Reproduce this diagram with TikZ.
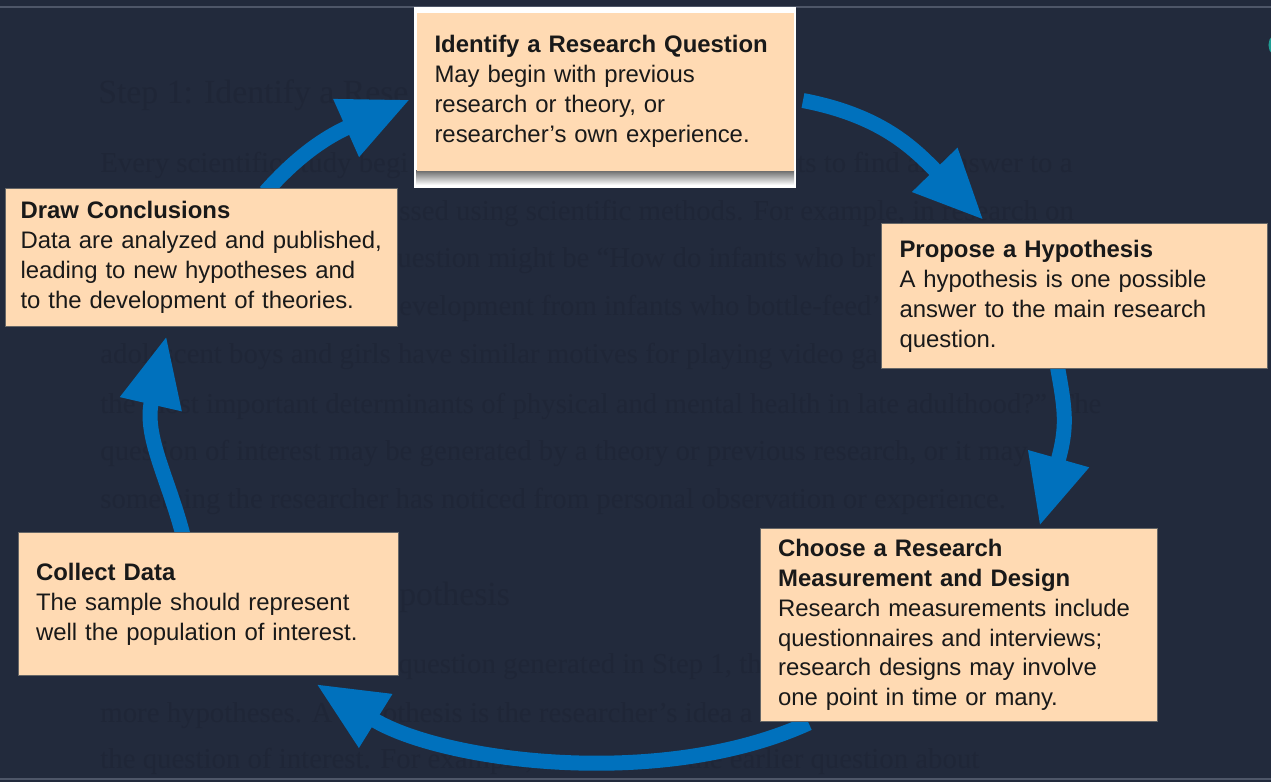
\documentclass[tikz,border=0pt]{standalone}
\usepackage{fontspec}
\newfontfamily\boxfont{Liberation Sans}
\newfontfamily\pagefont{Liberation Serif}
\usetikzlibrary{arrows.meta,backgrounds}
\definecolor{slide}{HTML}{222A3C}
\definecolor{ghosttext}{HTML}{1F2637}
\definecolor{peach}{HTML}{FFDAB3}
\definecolor{cyc}{HTML}{0071BD}
\definecolor{rule}{HTML}{4E5668}
\definecolor{tealmark}{HTML}{1F9C93}

\tikzset{
  stepbox/.style={draw=black!60, line width=0.6pt, fill=peach, anchor=north west,
    align=left, inner ysep=0pt, inner xsep=0.36cm, text=black!90,
    font=\boxfont\fontsize{13.6}{17}\selectfont},
  ghost/.style={anchor=base west, inner sep=0pt, text=ghosttext,
    font=\pagefont\fontsize{16.4}{19}\selectfont},
  ghosthead/.style={ghost, font=\pagefont\fontsize{19.2}{22}\selectfont},
  cycarrow/.style={line width=0.3cm, draw=cyc, -{Triangle[length=1.4cm, width=1.18cm]}},
  edgerule/.style={draw=rule, line width=0.035cm},
}

\begin{document}
\begin{tikzpicture}[x=0.02cm, y=-0.02cm]
\useasboundingbox (0,0) rectangle (1271,782);

% the question card sits on a white frame with a shadow
\fill[white] (414,7) rectangle (796,188);
\shade[top color=black!60, bottom color=white] (416,170) rectangle (794,185);
\node[stepbox, draw=none, text width=6.84cm, minimum height=3.16cm] (iq) at (416,12)
  {\textbf{Identify a Research Question}\\May begin with previous\\research or theory, or\\researcher’s own experience.};
\node[stepbox, text width=7.0cm, minimum height=2.9cm] (ph) at (881,223)
  {\textbf{Propose a Hypothesis}\\A hypothesis is one possible\\answer to the main research\\question.};
\node[stepbox, text width=7.22cm, minimum height=3.86cm] (cd) at (759.6,528)
  {\textbf{Choose a Research}\\\textbf{Measurement and Design}\\Research measurements include\\questionnaires and interviews;\\research designs may involve\\one point in time or many.};
\node[stepbox, text width=6.89cm, minimum height=2.86cm] (cl) at (17.5,532)
  {\textbf{Collect Data}\\The sample should represent\\well the population of interest.};
\node[stepbox, inner xsep=0.3cm, text width=7.24cm, minimum height=2.76cm] (dc) at (5,188)
  {\textbf{Draw Conclusions}\\Data are analyzed and published,\\leading to new hypotheses and\\to the development of theories.};

\begin{scope}[on background layer]
\fill[slide] (0,0) rectangle (1271,782);
\draw[edgerule] (0,7) -- (1271,7);
\draw[edgerule] (0,779) -- (1271,779);
\draw[tealmark, line width=0.06cm] (1282,45) circle[radius=12];

% faint page text behind the slide
\node[ghosthead] (head1) at (98,103) {Step 1: Identify a Rese};
\node[ghosthead] (head2) at (399,605) {pothesis};
\foreach \gx/\gy/\gt [count=\gi] in {
  100/172/{Every scientific study begi},
  797/172/{ts to find an answer to a},
  399/220/{ssed using scientific methods. For example, in research on},
  397/267/{uestion might be “How do infants who br},
  399/315/{evelopment from infants who bottle-feed’},
  100/363/{adolescent boys and girls have similar motives for playing video ga},
  100/413/{the most important determinants of physical and mental health in late adulthood?” The},
  100/460/{question of interest may be generated by a theory or previous research, or it may},
  100/508/{something the researcher has noticed from personal observation or experience.},
  398/673/{question generated in Step 1, the},
  100/722/{more hypotheses. A hypothesis is the researcher’s idea a},
  100/768/{the question of interest. For example,},
  687/768/{the earlier question about}}
  \node[ghost] (line\gi) at (\gx,\gy) {\gt};

% the cycle
\draw[cycarrow] ([shift={(64,4)}]dc.north) .. controls +(25,-28) and +(-92,41) .. ([shift={(-6,8)}]iq.west);
\draw[cycarrow] ([shift={(8,9)}]iq.east) .. controls +(78,15) and +(-70,-72) .. ([shift={(-91,-3)}]ph.north);
\draw[cycarrow] ([shift={(-17,-2)}]ph.south) .. controls +(8,44) and +(28,-99) .. ([shift={(81,-2)}]cd.north);
\draw[cycarrow] ([shift={(-150,1)}]cd.south) .. controls +(-149,68) and +(124,77) .. ([shift={(108,8)}]cl.south);
\draw[cycarrow] ([shift={(-25,4)}]cl.north) .. controls +(-15,-58) and +(-23,100) .. ([shift={(-35,9)}]dc.south);
\end{scope}
\end{tikzpicture}
\end{document}
